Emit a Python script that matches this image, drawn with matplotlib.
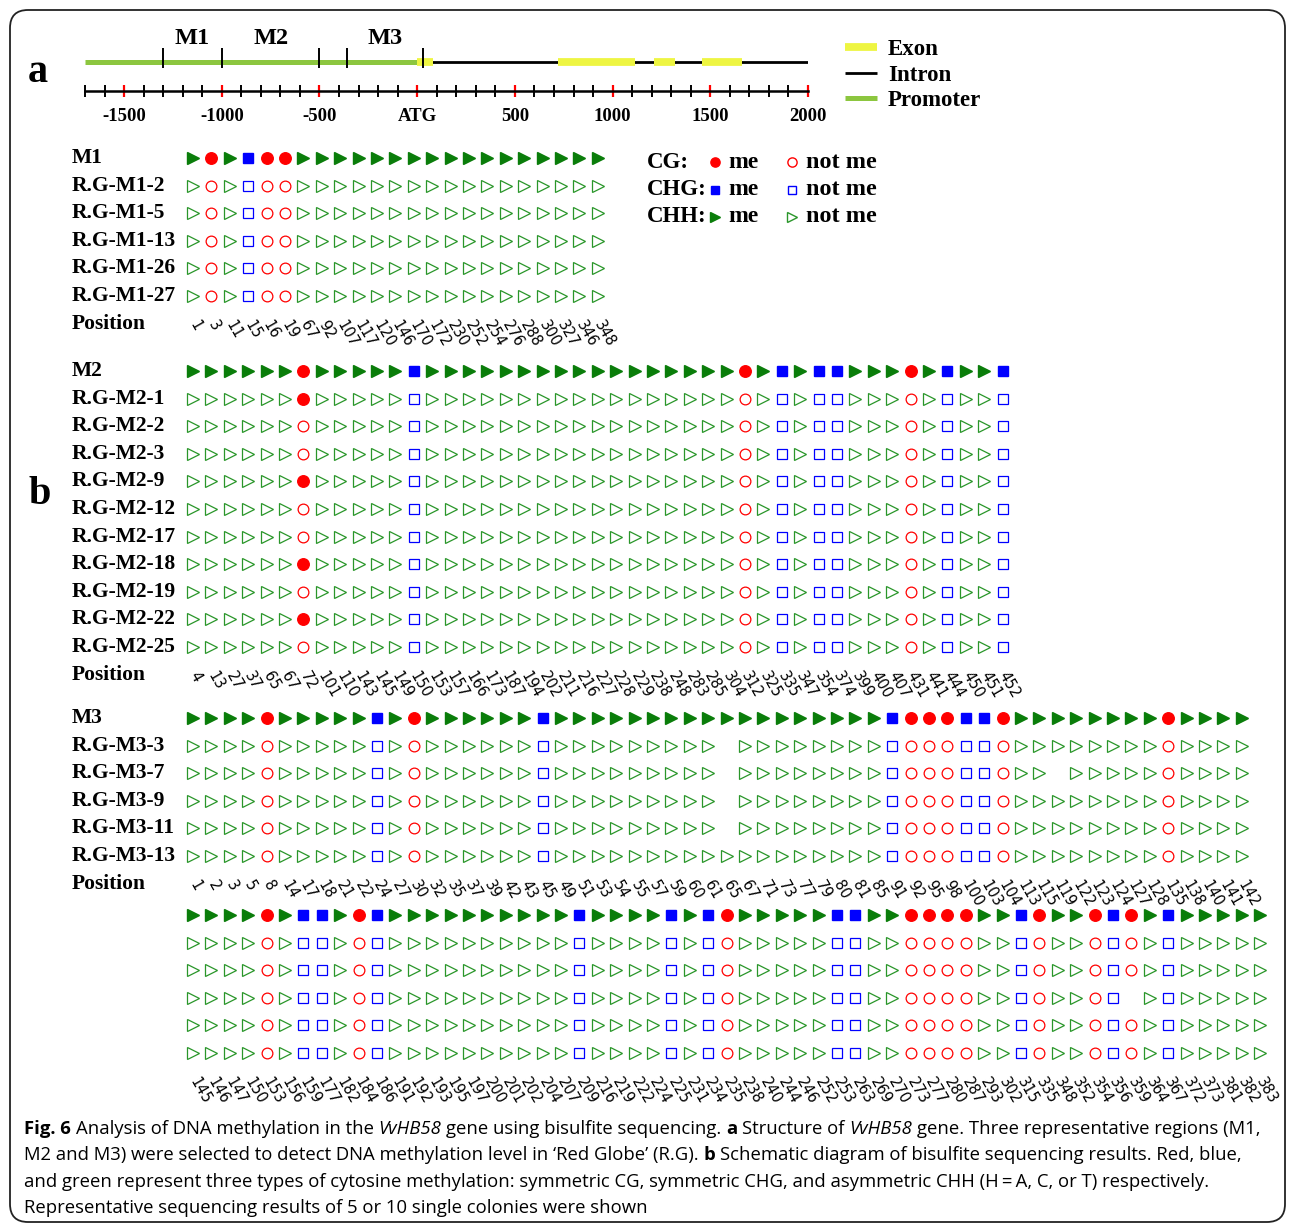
import numpy as np
import matplotlib.pyplot as plt
from matplotlib.patches import FancyBboxPatch

W, H = 1295, 1225
SERIF = 'Liberation Serif'
SANS = 'Open Sans'

# ---- a: gene structure (bp, ATG = 0)
promoter = (-1700, 0)
intron = (0, 2000)
exons = [(0, 80), (720, 1115), (1210, 1320), (1455, 1660)]
region_bounds = [-1300, -1000, -500, -360, 30]
region_names = ['M1', 'M2', 'M3']
region_spans = [(-1300, -1000), (-1000, -500), (-360, 30)]
axis_major = [-1500, -1000, -500, 0, 500, 1000, 1500, 2000]
axis_labels = ['-1500', '-1000', '-500', 'ATG', '500', '1000', '1500', '2000']

# ---- b: bisulfite sequencing
# context: C = CG, G = CHG, H = CHH ; state: 1 = me, 0 = not me, - = no data
m1_pos = [1, 3, 11, 15, 16, 19, 67, 92, 107, 117, 120, 146, 170, 172, 230, 252,
          254, 276, 288, 300, 327, 346, 348]
m1_ctx = "HCHGC CHHHH HHHHH HHHHH HHH"
m1_names = ['M1', 'R.G-M1-2', 'R.G-M1-5', 'R.G-M1-13', 'R.G-M1-26', 'R.G-M1-27']
m1_rows = [
    "11111 11111 11111 11111 111",
    "00000 00000 00000 00000 000",
    "00000 00000 00000 00000 000",
    "00000 00000 00000 00000 000",
    "00000 00000 00000 00000 000",
    "00000 00000 00000 00000 000",
]

m2_pos = [4, 13, 27, 37, 65, 67, 72, 101, 110, 143, 145, 149, 150, 153, 157, 166,
          173, 187, 194, 202, 211, 216, 227, 228, 229, 238, 248, 283, 285, 304,
          312, 325, 335, 347, 354, 374, 399, 400, 407, 431, 441, 444, 450, 451, 452]
m2_ctx = "HHHHH HCHHH HHGHH HHHHH HHHHH HHHHH CHGHG GHHHC HGHHG"
m2_names = ['M2', 'R.G-M2-1', 'R.G-M2-2', 'R.G-M2-3', 'R.G-M2-9', 'R.G-M2-12',
            'R.G-M2-17', 'R.G-M2-18', 'R.G-M2-19', 'R.G-M2-22', 'R.G-M2-25']
m2_rows = [
    "11111 11111 11111 11111 11111 11111 11111 11111 11111",
    "00000 01000 00000 00000 00000 00000 00000 00000 00000",
    "00000 00000 00000 00000 00000 00000 00000 00000 00000",
    "00000 00000 00000 00000 00000 00000 00000 00000 00000",
    "00000 01000 00000 00000 00000 00000 00000 00000 00000",
    "00000 00000 00000 00000 00000 00000 00000 00000 00000",
    "00000 00000 00000 00000 00000 00000 00000 00000 00000",
    "00000 01000 00000 00000 00000 00000 00000 00000 00000",
    "00000 00000 00000 00000 00000 00000 00000 00000 00000",
    "00000 01000 00000 00000 00000 00000 00000 00000 00000",
    "00000 00000 00000 00000 00000 00000 00000 00000 00000",
]

m3a_pos = [1, 2, 3, 5, 8, 14, 17, 18, 21, 22, 24, 27, 30, 32, 35, 37, 39, 42, 43,
           45, 49, 51, 53, 54, 55, 57, 59, 60, 61, 65, 67, 71, 73, 77, 79, 80, 81,
           85, 91, 92, 95, 98, 100, 103, 104, 113, 115, 119, 122, 123, 124, 127,
           128, 135, 138, 140, 141, 142]
m3a_ctx = "HHHHC HHHHH GHCHH HHHHG HHHHH HHHHH HHHHH HHHGC CCGGC HHHHH HHHCH HHH"
m3_names = ['M3', 'R.G-M3-3', 'R.G-M3-7', 'R.G-M3-9', 'R.G-M3-11', 'R.G-M3-13']
m3a_rows = [
    "11111 11111 11111 11111 11111 11111 11111 11111 11111 11111 11111 111",
    "00000 00000 00000 00000 00000 0000- 00000 00000 00000 00000 00000 000",
    "00000 00000 00000 00000 00000 0000- 00000 00000 00000 00-00 00000 000",
    "00000 00000 00000 00000 00000 0000- 00000 00000 00000 00000 00000 000",
    "00000 00000 00000 00000 00000 0000- 00000 00000 00000 00000 00000 000",
    "00000 00000 00000 00000 00000 00000 00000 00000 00000 00000 00000 000",
]

m3b_pos = [145, 146, 147, 150, 153, 156, 159, 177, 182, 184, 186, 191, 192, 193,
           195, 197, 200, 201, 202, 204, 207, 209, 216, 219, 222, 224, 225, 231,
           234, 235, 238, 240, 244, 246, 252, 253, 263, 269, 270, 273, 277, 280,
           287, 293, 302, 315, 335, 348, 352, 354, 356, 359, 364, 367, 372, 373,
           381, 382, 383]
m3b_ctx = "HHHHC HGGHC GHHHH HHHHH HGHHH HGHGC HHHHH GGHHC CCCHH GCHHC GCHGH HHHH"
m3b_rows = [
    "11111 11111 11111 11111 11111 11111 11111 11111 11111 11111 11111 1111",
    "00000 00000 00000 00000 00000 00000 00000 00000 00000 00000 00000 0000",
    "00000 00000 00000 00000 00000 00000 00000 00000 00000 00000 00000 0000",
    "00000 00000 00000 00000 00000 00000 00000 00000 00000 00000 0-000 0000",
    "00000 00000 00000 00000 00000 00000 00000 00000 00000 00000 00000 0000",
    "00000 00000 00000 00000 00000 00000 00000 00000 00000 00000 00000 0000",
]

RED = '#ff0000'
BLUE = '#0000ff'
GREEN_F = '#0a7d0a'
GREEN_O = '#2a962a'
style = {'C': ('o', RED, RED, 8.3), 'G': ('s', BLUE, BLUE, 7.4), 'H': ('>', GREEN_F, GREEN_O, 8.6)}

fig = plt.figure(figsize=(W / 100, H / 100), dpi=100)

# background axes in pixel units (text, border)
ax_bg = fig.add_axes([0, 0, 1, 1])
ax_bg.set_xlim(0, W)
ax_bg.set_ylim(H, 0)
ax_bg.axis('off')
ax_bg.add_patch(FancyBboxPatch((10, 10), W - 20, H - 13, boxstyle='round,pad=0,rounding_size=18',
                               fc='none', ec='#222222', lw=1.3))


def bold(x, y, s, size, **kw):
    ax_bg.text(x, y, s, fontsize=size, family=SERIF, weight='bold', **kw)


bold(38, 73, 'a', 29, ha='center', va='center')
bold(40, 495, 'b', 29, ha='center', va='center')

# ---- panel a
ax_a = fig.add_axes([85 / W, 1 - 130 / H, (808 - 85) / W, 110 / H])
ax_a.set_xlim(-1700, 2000)
ax_a.set_ylim(130, 20)
pl, = ax_a.plot(promoter, [62, 62], color='#8cc63f', lw=3.6, solid_capstyle='butt', label='Promoter')
il, = ax_a.plot(intron, [62, 62], color='black', lw=2.0, solid_capstyle='butt', label='Intron')
for a, b in exons:
    el, = ax_a.plot([a, b], [62, 62], color='#eef542', lw=5.6, solid_capstyle='butt', label='Exon')
ax_a.vlines(region_bounds, 48, 68, color='black', lw=1.4)
for name, (a, b) in zip(region_names, region_spans):
    ax_a.text((a + b) / 2, 38, name, ha='center', va='center', fontsize=17.5,
              family=SERIF, weight='bold')
for s in ['top', 'left', 'right']:
    ax_a.spines[s].set_visible(False)
ax_a.spines['bottom'].set_position(('data', 91))
ax_a.spines['bottom'].set_linewidth(1.8)
ax_a.patch.set_alpha(0)
ax_a.set_yticks([])
ax_a.set_xticks(axis_major, axis_labels)
ax_a.set_xticks(np.arange(-1700, 2001, 100), minor=True)
ax_a.tick_params(axis='x', which='major', direction='inout', length=8, width=1.6,
                 color='red', pad=8, labelsize=13.5)
ax_a.tick_params(axis='x', which='minor', direction='inout', length=8, width=1.4, color='black')
for t in ax_a.get_xticklabels():
    t.set_fontfamily(SERIF)
    t.set_fontweight('bold')
leg = ax_a.legend(handles=[el, il, pl], loc='upper left', bbox_to_anchor=(845 / W, 1 - 39 / H),
                  bbox_transform=fig.transFigure, frameon=False, handlelength=1.4,
                  handletextpad=0.48, labelspacing=0.2, borderpad=0, borderaxespad=0,
                  prop={'family': SERIF, 'weight': 'bold', 'size': 16.5})

# ---- panel b legend
for k, (ctx, lab) in enumerate(zip('CGH', ['CG:', 'CHG:', 'CHH:'])):
    y = 162 + k * 27.5
    m, fc, ec, ms = style[ctx]
    bold(647, y, lab, 16.5, ha='left', va='center')
    ax_bg.plot(715, y, marker=m, color=fc, ms=ms * 0.8, ls='none')
    bold(728, y, 'me', 17, ha='left', va='center')
    ax_bg.plot(792, y, marker=m, mfc='none', mec=ec, mew=1.0, ms=ms * 0.8, ls='none')
    bold(806, y, 'not me', 17.5, ha='left', va='center')

X0, DX, DY = 193, 18.4, 27.6


def draw_block(ctx, pos, names, rows, y0, show_pos=True):
    ctx = ctx.replace(' ', '')
    rows = [r.replace(' ', '') for r in rows]
    n, nr = len(ctx), len(rows)
    top = y0 - DY / 2
    ax = fig.add_axes([(X0 - DX / 2) / W, 1 - (top + nr * DY) / H, n * DX / W, nr * DY / H])
    ax.set_xlim(-0.5, n - 0.5)
    ax.set_ylim(nr - 0.5, -0.5)
    ax.patch.set_alpha(0)
    for s in ax.spines.values():
        s.set_visible(False)
    for r, st in enumerate(rows):
        for c in 'CGH':
            m, fc, ec, ms = style[c]
            xs = [i for i in range(n) if ctx[i] == c and st[i] == '1']
            ax.plot(xs, [r] * len(xs), ls='none', marker=m, color=fc, ms=ms)
            xs = [i for i in range(n) if ctx[i] == c and st[i] == '0']
            ax.plot(xs, [r] * len(xs), ls='none', marker=m, mfc='none', mec=ec, mew=0.9, ms=ms * 0.93)
    ax.set_yticks([])
    ax.set_xticks(range(n))
    ax.set_xticklabels([str(p) for p in pos], rotation=-60, ha='left', va='center',
                       rotation_mode='anchor', fontsize=10.5, family='DejaVu Sans')
    ax.tick_params(axis='x', length=0, pad=8.5)
    if names:
        for r, name in enumerate(names):
            bold(72, y0 + r * DY, name, 15.5, ha='left', va='center')
    if show_pos:
        bold(72, y0 + nr * DY, 'Position', 15.5, ha='left', va='center')


draw_block(m1_ctx, m1_pos, m1_names, m1_rows, 158)
draw_block(m2_ctx, m2_pos, m2_names, m2_rows, 371)
draw_block(m3a_ctx, m3a_pos, m3_names, m3a_rows, 718)
draw_block(m3b_ctx, m3b_pos, None, m3b_rows, 915, show_pos=False)

# ---- caption
caption = [
    [("Fig. 6", 'b'), ("Analysis of DNA methylation in the", 'n'), ("VvHB58", 'i'),
     ("gene using bisulfite sequencing.", 'n'), ("a", 'b'), ("Structure of", 'n'),
     ("VvHB58", 'i'), ("gene. Three representative regions (M1,", 'n')],
    [("M2 and M3) were selected to detect DNA methylation level in \u2018Red Globe\u2019 (R.G).", 'n'),
     ("b", 'b'), ("Schematic diagram of bisulfite sequencing results. Red, blue,", 'n')],
    [("and green represent three types of cytosine methylation: symmetric CG, symmetric CHG, "
      "and asymmetric CHH (H\u2009=\u2009A, C, or T) respectively.", 'n')],
    [("Representative sequencing results of 5 or 10 single colonies were shown", 'n')],
]
renderer = fig.canvas.get_renderer()
CAP = 13.3
sp = ax_bg.text(0, 0, 'x x', fontsize=CAP, family=SANS)
nsp = ax_bg.text(0, 0, 'xx', fontsize=CAP, family=SANS)
space_w = sp.get_window_extent(renderer).width - nsp.get_window_extent(renderer).width
sp.remove()
nsp.remove()
for k, parts in enumerate(caption):
    x = 24
    y = 1129 + k * 26.3
    for s, st in parts:
        t = ax_bg.text(x, y, s, fontsize=CAP, family=SANS, ha='left', va='center',
                       weight='bold' if st == 'b' else 'normal',
                       style='italic' if st == 'i' else 'normal')
        x += t.get_window_extent(renderer).width + space_w

plt.savefig('out.png', dpi=100)
